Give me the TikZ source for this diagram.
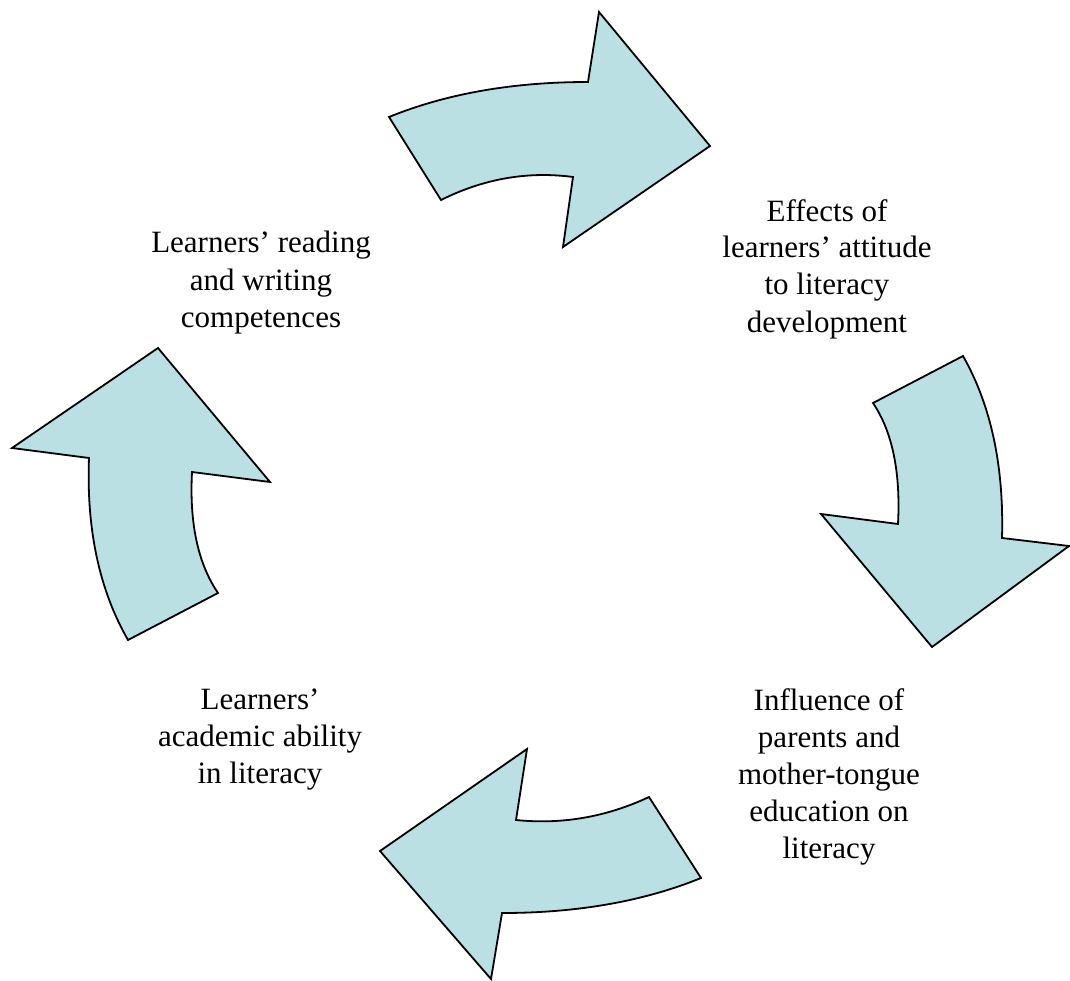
\documentclass[tikz,border=0pt]{standalone}
\usepackage{fontspec}
\setmainfont{Liberation Serif}
\definecolor{arrowfill}{RGB}{187,224,227}
\tikzset{
  cyclearrow/.style={draw=black, fill=arrowfill, line width=1.8pt, line join=miter},
  label/.style={align=center, anchor=base, inner sep=0pt, font=\fontsize{31}{37}\selectfont}
}
\begin{document}
\begin{tikzpicture}[x=1pt,y=-1pt]
\useasboundingbox (0,0) rectangle (1070,981);
% top arrow
\path[cyclearrow] (389,117) .. controls (446.3,93.7) and (512.7,82) .. (588,82) -- (599,12) -- (710,146) -- (563,247) -- (573,177) .. controls (527.7,171) and (483.7,178.7) .. (441,200) -- cycle;
% right arrow
\path[cyclearrow] (963,356) .. controls (991,405.3) and (1004,466) .. (1002,538) -- (1069,546) -- (932,647) -- (821,514) -- (898,524) .. controls (900.7,472) and (892.3,431.7) .. (873,403) -- cycle;
% bottom arrow
\path[cyclearrow] (701,878) .. controls (643.7,901.3) and (577.3,913) .. (502,913) -- (491,979) -- (380,851) -- (527,749) -- (516,820) .. controls (562,824.7) and (606.3,817) .. (649,797) -- cycle;
% left arrow
\path[cyclearrow] (128,640) .. controls (99.3,590) and (86.3,529.3) .. (89,458) -- (12,448) -- (158,348) -- (270,482) -- (192,472) .. controls (189.3,523.3) and (198,563.7) .. (218,593) -- cycle;
% labels (base anchor = baseline of last line)
\node[label] (effects) at (827,332) {Effects of\\learners’ attitude\\to literacy\\development};
\node[label] (influence) at (829,858) {Influence of\\parents and\\mother-tongue\\education on\\literacy};
\node[label] (academic) at (260,783) {Learners’\\academic ability\\in literacy};
\node[label] (reading) at (261,327) {Learners’ reading\\and writing\\competences};
\end{tikzpicture}
\end{document}
